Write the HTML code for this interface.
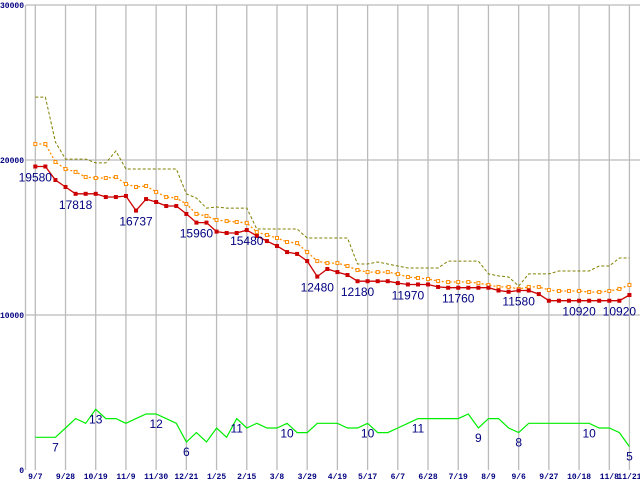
<!DOCTYPE html>
<html><head><meta charset="utf-8"><style>
html,body{margin:0;padding:0;background:#fff;width:640px;height:480px;overflow:hidden}
svg{display:block}
</style></head><body>
<svg id="chart" width="640" height="480" xmlns="http://www.w3.org/2000/svg"></svg>
<script>
const xTickLabels = ["9/7","9/28","10/19","11/9","11/30","12/21","1/25","2/15","3/8","3/29","4/19","5/17","6/7","6/28","7/19","8/9","9/6","9/27","10/18","11/8","11/21"];
const xTickIndex = [0,3,6,9,12,15,18,21,24,27,30,33,36,39,42,45,48,51,54,57,59];
const yTicks = [0,10000,20000,30000];
const minPrice = [19580,19580,18710,18260,17818,17818,17818,17610,17610,17680,16737,17480,17290,17030,17030,16520,15960,15960,15380,15290,15290,15480,15100,14770,14450,14060,13940,13480,12480,12970,12770,12580,12180,12180,12180,12180,12060,11970,11970,11970,11810,11760,11760,11760,11760,11760,11580,11500,11580,11580,11350,10920,10920,10920,10920,10920,10920,10920,10920,11290];
const avgPrice = [21030,21030,19870,19420,19230,18900,18840,18840,18900,18450,18260,18320,17940,17610,17550,17160,16520,16390,16130,16060,16000,15940,15350,15160,14970,14710,14640,14060,13480,13350,13350,13160,12900,12770,12770,12770,12640,12450,12390,12320,12190,12130,12130,12130,12060,11940,11810,11810,11680,11810,11810,11610,11550,11550,11550,11480,11480,11550,11680,11940];
const maxPrice = [24060,24060,21160,20060,20060,20060,19810,19810,20580,19420,19420,19420,19420,19420,19420,17810,17550,16900,16970,16900,16900,16900,15550,15550,15550,15550,15550,14970,14970,14970,14970,14970,13290,13290,13420,13290,13160,13030,13030,13030,13030,13480,13480,13480,13480,12650,12520,12450,11870,12650,12650,12650,12840,12840,12840,12840,13160,13160,13680,13680];
const shopCount = [7,7,7,9,11,10,13,11,11,10,11,12,12,11,10,6,8,6,9,7,11,9,10,9,9,10,8,8,10,10,10,9,9,10,8,8,9,10,11,11,11,11,11,12,9,11,11,9,8,10,10,10,10,10,10,10,9,9,8,5];
const priceLabels = [[0,19580],[4,17818],[10,16737],[16,15960],[21,15480],[28,12480],[32,12180],[37,11970],[42,11760],[48,11580],[54,10920],[58,10920]];
const countLabels = [[2,7],[6,13],[12,12],[15,6],[20,11],[25,10],[33,10],[38,11],[44,9],[48,8],[55,10],[59,5]];

const NS="http://www.w3.org/2000/svg";
const svg=document.getElementById('chart');
const X0=35.3, DX=10.07;
function xs(i){return X0+i*DX;}
function ys(v){return 470-v*0.0155;}
function yc(n){return 470-n*4.67;}
function mk(tag,attrs,parent){const e=document.createElementNS(NS,tag);for(const k in attrs)e.setAttribute(k,attrs[k]);(parent||svg).appendChild(e);return e;}

// grid
const grid=mk('g',{});


yTicks.forEach(v=>{
  if(v>0){const l=mk('line',{x1:26,x2:640,y1:ys(v),y2:ys(v),stroke:'#bbb','stroke-width':1.3},grid);
  
  }
});
xTickIndex.forEach(i=>{
  const l=mk('line',{x1:xs(i),x2:xs(i),y1:ys(30000),y2:470,stroke:'#bbb','stroke-width':1.3},grid);
  
  
});
const ax=mk('line',{x1:25.5,x2:25.5,y1:ys(30000),y2:470,stroke:'#bbb','stroke-width':1.3});



// y tick labels
yTicks.forEach(v=>{
  const t=mk('text',{x:24,y:ys(v)+3,'text-anchor':'end','font-family':'Liberation Mono, monospace','font-size':8,'font-weight':'bold',fill:'#000080'});
  t.textContent=String(v);
  
  
});
// x tick labels
xTickIndex.forEach((i,k)=>{
  const t=mk('text',{x:xs(i),y:479,'text-anchor':'middle','font-family':'Liberation Mono, monospace','font-size':8,'font-weight':'bold',fill:'#000080'});
  t.textContent=xTickLabels[k];
  
  
});

function pts(arr,f){return arr.map((v,i)=>xs(i).toFixed(1)+','+f(v).toFixed(1)).join(' ');}

const maxL=mk('polyline',{points:pts(maxPrice,ys),fill:'none',stroke:'#808000','stroke-width':1,'stroke-dasharray':'3,2'});



const avgL=mk('polyline',{points:pts(avgPrice,ys),fill:'none',stroke:'#ff8c00','stroke-width':1.3,'stroke-dasharray':'2,2'});


avgPrice.forEach((v,i)=>{
  const r=mk('rect',{x:xs(i)-1.5,y:ys(v)-1.5,width:3,height:3,fill:'#fff',stroke:'#ff8c00','stroke-width':1});
  
  
});

const minL=mk('polyline',{points:pts(minPrice,ys),fill:'none',stroke:'#cc0000','stroke-width':1.3});


minPrice.forEach((v,i)=>{
  const r=mk('rect',{x:xs(i)-2,y:ys(v)-2,width:4,height:4,fill:'#cc0000'});
  
  
});

const cntL=mk('polyline',{points:pts(shopCount,yc),fill:'none',stroke:'#00ee00','stroke-width':1.2});



priceLabels.forEach(([i,v])=>{
  const t=mk('text',{x:xs(i),y:ys(v)+15,'text-anchor':'middle','font-family':'Liberation Sans, sans-serif','font-size':12,fill:'#000080'});
  t.textContent=String(v);
  
  
});
countLabels.forEach(([i,n])=>{
  const t=mk('text',{x:xs(i),y:yc(shopCount[i])+14,'text-anchor':'middle','font-family':'Liberation Sans, sans-serif','font-size':12,fill:'#000080'});
  t.textContent=String(n);
  
  
});
</script>
</body></html>
